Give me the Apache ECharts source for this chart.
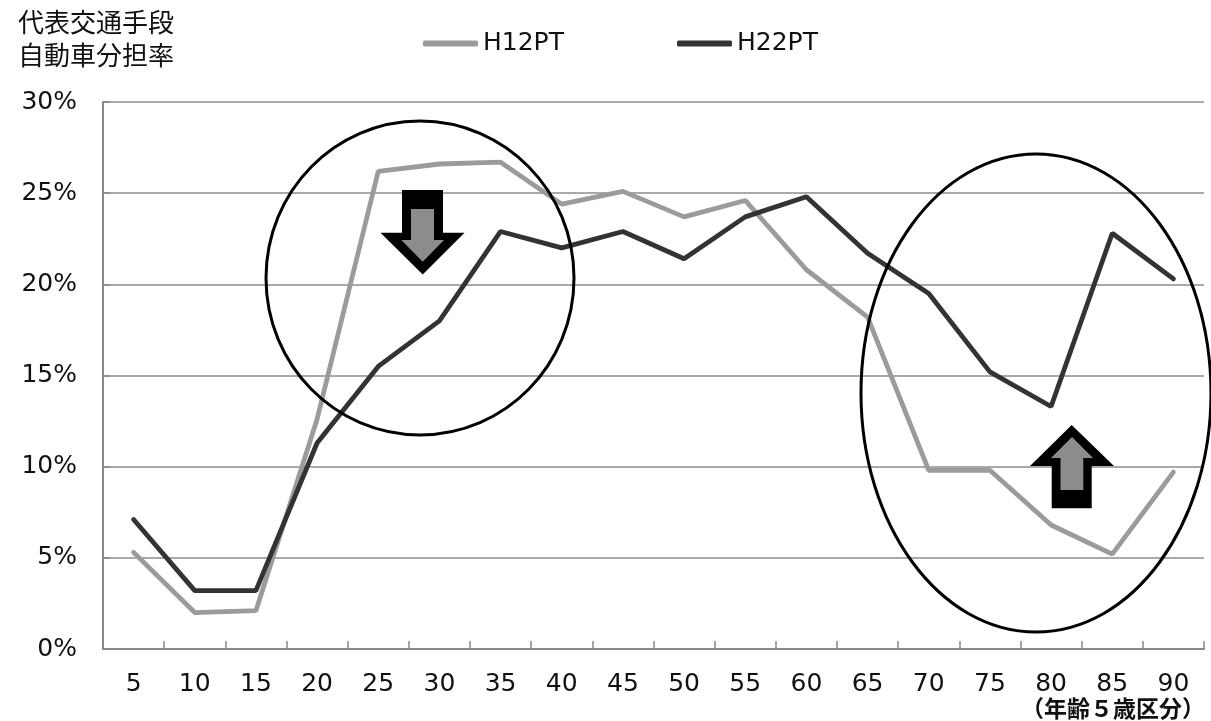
<!DOCTYPE html>
<html>
<head>
<meta charset="utf-8">
<script src="https://cdn.jsdelivr.net/npm/echarts@6/dist/echarts.min.js"></script>
<style>
html,body{margin:0;padding:0;background:#fff;}
#main{width:1211px;height:721px;}
</style>
</head>
<body>
<div id="main"></div>
<script>
var categories = ['5','10','15','20','25','30','35','40','45','50','55','60','65','70','75','80','85','90'];
var h12pt = [5.3, 2.0, 2.1, 12.6, 26.2, 26.6, 26.7, 24.4, 25.1, 23.7, 24.6, 20.8, 18.2, 9.8, 9.8, 6.8, 5.2, 9.7];
var h22pt = [7.1, 3.2, 3.2, 11.3, 15.5, 18.0, 22.9, 22.0, 22.9, 21.4, 23.7, 24.8, 21.7, 19.5, 15.2, 13.3, 22.8, 20.3];
var seriesNames = ['H12PT', 'H22PT'];
var yTitle = '代表交通手段\n自動車分担率';
var xUnit = '（年齢５歳区分）';

var FONT = 'DejaVu Sans';
var CJK = 'Noto Sans CJK JP';

var chart = echarts.init(document.getElementById('main'), null, {renderer: 'canvas'});

var arrowGray = '#8c8c8c';

var option = {
  backgroundColor: '#ffffff',
  animation: false,
  title: {
    text: yTitle,
    left: 13,
    top: 1,
    textStyle: {fontFamily: CJK, fontSize: 26, fontWeight: 'normal', color: '#111', lineHeight: 33}
  },
  legend: [
    {
      data: [seriesNames[0]], left: 418, top: 26,
      icon: 'roundRect', itemWidth: 55, itemHeight: 6,
      textStyle: {fontFamily: FONT, fontSize: 25, color: '#111'}
    },
    {
      data: [seriesNames[1]], left: 672, top: 26,
      icon: 'roundRect', itemWidth: 55, itemHeight: 6,
      textStyle: {fontFamily: FONT, fontSize: 25, color: '#111'}
    }
  ],
  grid: {left: 103, right: 7, top: 102, bottom: 72, containLabel: false},
  xAxis: {
    type: 'category',
    data: categories,
    boundaryGap: true,
    axisLine: {lineStyle: {color: '#888', width: 2}},
    axisTick: {show: true, inside: true, length: 8, lineStyle: {color: '#888', width: 1.5}},
    axisLabel: {fontFamily: FONT, fontSize: 25, color: '#111', margin: 23, interval: 0}
  },
  yAxis: {
    type: 'value',
    min: 0, max: 30, interval: 5,
    axisLine: {show: true, lineStyle: {color: '#888', width: 2}},
    axisTick: {show: true, inside: true, length: 7, lineStyle: {color: '#888', width: 1.5}},
    axisLabel: {fontFamily: FONT, fontSize: 25, color: '#111', margin: 26, formatter: '{value}%'},
    splitLine: {show: true, lineStyle: {color: '#8c8c8c', width: 1.5}}
  },
  series: [
    {
      name: seriesNames[0], type: 'line', data: h12pt, symbol: 'none',
      itemStyle: {color: '#9b9b9b'},
      lineStyle: {color: '#9b9b9b', width: 4.8, cap: 'round'}
    },
    {
      name: seriesNames[1], type: 'line', data: h22pt, symbol: 'none',
      itemStyle: {color: '#333333'},
      lineStyle: {color: '#333333', width: 4.8, cap: 'round'}
    }
  ],
  graphic: [
    {type: 'ellipse', z: 100, shape: {cx: 420, cy: 278, rx: 154, ry: 157},
      style: {fill: null, stroke: '#000', lineWidth: 3}},
    {type: 'ellipse', z: 100, shape: {cx: 1036, cy: 393, rx: 175, ry: 239},
      style: {fill: null, stroke: '#000', lineWidth: 3}},
    {type: 'polygon', z: 101, shape: {points: [[402,190],[443,190],[443,232.7],[464.5,232.7],[422.7,274.5],[380.5,232.7],[402,232.7]]},
      style: {fill: '#000'}},
    {type: 'polygon', z: 102, shape: {points: [[411,209],[434,209],[434,240],[444,240],[422.7,261.7],[401.3,240],[411,240]]},
      style: {fill: arrowGray}},
    {type: 'polygon', z: 101, shape: {points: [[1071.7,425],[1114,466],[1091.7,466],[1091.7,508.3],[1051.7,508.3],[1051.7,466],[1030,466]]},
      style: {fill: '#000'}},
    {type: 'polygon', z: 102, shape: {points: [[1072,437],[1093,458],[1083.3,458],[1083.3,490],[1060.5,490],[1060.5,458],[1051,458]]},
      style: {fill: arrowGray}},
    {type: 'text', z: 100, style: {text: xUnit, x: 1205, y: 708, align: 'right', verticalAlign: 'middle',
      fontFamily: CJK, fontSize: 23, fontWeight: 'bold', fill: '#111'}}
  ]
};

chart.setOption(option);
</script>
</body>
</html>
